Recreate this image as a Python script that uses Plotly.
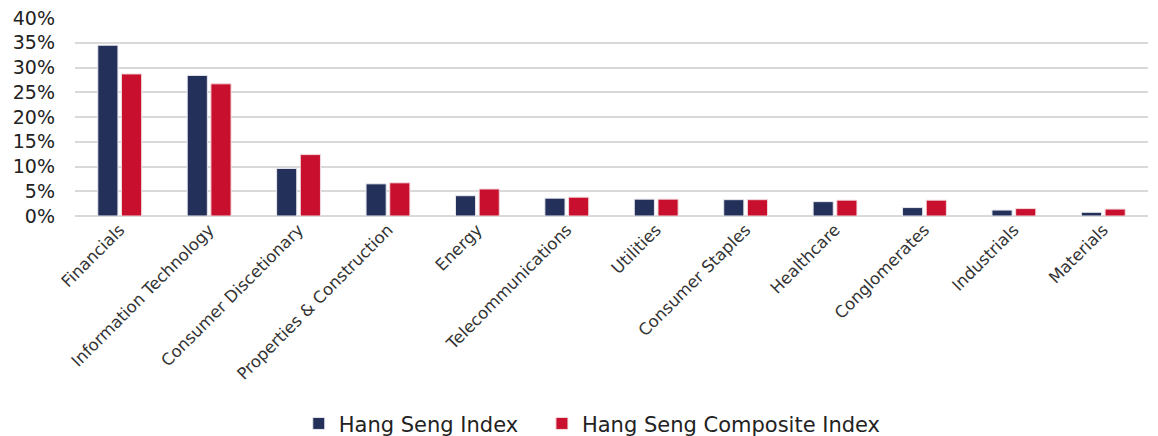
import plotly.graph_objects as go

# Sector weights (%) of the two Hang Seng indexes
sectors = [
    "Financials", "Information Technology", "Consumer Discetionary",
    "Properties & Construction", "Energy", "Telecommunications", "Utilities",
    "Consumer Staples", "Healthcare", "Conglomerates", "Industrials", "Materials",
]
hsi = [34.5, 28.4, 9.6, 6.5, 4.1, 3.6, 3.4, 3.3, 2.9, 1.7, 1.2, 0.75]
hsci = [28.7, 26.7, 12.4, 6.7, 5.45, 3.8, 3.4, 3.3, 3.2, 3.2, 1.5, 1.4]

y_ticks = [0, 5, 10, 15, 20, 25, 30, 35, 40]
y_tick_text = [f"{v}%" for v in y_ticks]

NAVY = "#22305A"
RED = "#C8102E"
FONT = "DejaVu Sans, Verdana, sans-serif"

fig = go.Figure()
fig.add_trace(go.Bar(
    x=sectors, y=hsi, name="Hang Seng Index", legend="legend",
    marker=dict(color=NAVY, line=dict(color="#e8e8ee", width=1)),
))
fig.add_trace(go.Bar(
    x=sectors, y=hsci, name="Hang Seng Composite Index", legend="legend2",
    marker=dict(color=RED, line=dict(color="#f2d8dc", width=1)),
))

legend_style = dict(
    orientation="h", xref="container", yref="container",
    xanchor="left", y=0.028, yanchor="middle",
    font=dict(size=21, color="#222222"),
)

fig.update_layout(
    width=1158, height=436,
    margin=dict(l=75, r=10, t=18, b=220),
    paper_bgcolor="white", plot_bgcolor="white",
    barmode="group", bargap=0.47, bargroupgap=0.15,
    font=dict(family=FONT, color="#222222"),
    showlegend=True,
    legend=dict(x=0.258, **legend_style),
    legend2=dict(x=0.468, **legend_style),
    xaxis=dict(
        tickangle=-45, tickfont=dict(size=16.5, color="#333333"),
        showgrid=False, showline=False, ticks="", automargin=False,
    ),
    yaxis=dict(
        range=[0, 40], tickvals=y_ticks, ticktext=y_tick_text,
        tickfont=dict(size=19, color="#222222"),
        showgrid=True, gridcolor="#d9d9d9", gridwidth=2,
        zeroline=True, zerolinecolor="#d9d9d9", zerolinewidth=2,
        showline=False, ticks="", ticklabelstandoff=19, automargin=False,
    ),
)

fig.write_html("out.html")
